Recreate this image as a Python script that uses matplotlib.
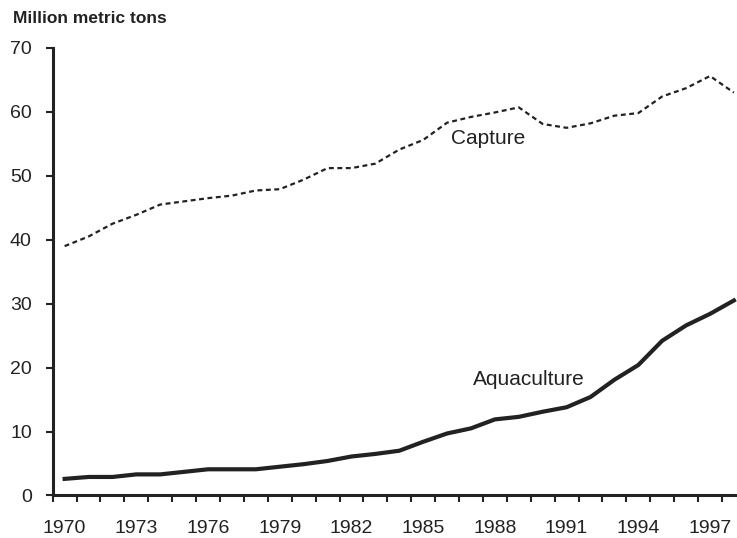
import matplotlib
matplotlib.use("Agg")
import matplotlib.pyplot as plt
from matplotlib import font_manager
from matplotlib.ticker import FixedLocator

installed = {f.name for f in font_manager.fontManager.ttflist}
narrow = 'Liberation Sans Narrow' in installed

plt.rcParams['font.family'] = ['Liberation Sans', 'DejaVu Sans']

years = list(range(1970, 1999))
capture = [39.0, 40.5, 42.5, 43.9, 45.5, 46.0, 46.5, 46.9, 47.7, 47.9,
           49.4, 51.2, 51.2, 51.9, 54.1, 55.6, 58.3, 59.2, 59.9, 60.7,
           58.1, 57.5, 58.2, 59.4, 59.8, 62.4, 63.7, 65.6, 63.0]
aquaculture = [2.6, 2.9, 2.9, 3.3, 3.3, 3.7, 4.1, 4.1, 4.1, 4.5,
               4.9, 5.4, 6.1, 6.5, 7.0, 8.4, 9.7, 10.5, 11.9, 12.3,
               13.1, 13.8, 15.4, 18.1, 20.4, 24.2, 26.6, 28.4, 30.5]
tick_years = list(range(1970, 1999, 3))

fig = plt.figure(figsize=(7.37, 5.38), dpi=100)
ax = fig.add_axes([0.0715, 0.079, 0.9285, 0.832])

ax.plot(years, capture, color='#222222', lw=1.6, linestyle=(0, (2.2, 1.6)))
ax.plot(years, aquaculture, color='#222222', lw=3.0, solid_joinstyle='round')

ax.text(1987.7, 55.8, 'Capture', fontsize=15, ha='center', va='center', color='#222222')
ax.text(1989.4, 18.1, 'Aquaculture', fontsize=15, ha='center', va='center', color='#222222')

ax.set_xlim(1969.5, 1998.13)
ax.set_ylim(0, 70)

ax.set_yticks(range(0, 71, 10))
ax.set_xticks(tick_years)
ax.set_xticklabels([str(y) for y in tick_years])
ax.xaxis.set_minor_locator(FixedLocator([y + 0.5 for y in range(1969, 1999)]))

if narrow:
    tick_font = {'family': 'Liberation Sans Narrow', 'size': 15.5}
else:
    tick_font = {'family': 'Liberation Sans', 'size': 14}
for lab in ax.get_xticklabels() + ax.get_yticklabels():
    lab.set_fontfamily(tick_font['family'])
    lab.set_fontsize(tick_font['size'])
    lab.set_color('#222222')

ax.tick_params(axis='x', which='major', length=0, pad=18)
ax.tick_params(axis='x', which='minor', length=5, width=1.5, direction='out', color='#222222')
ax.tick_params(axis='y', length=5, width=1.5, direction='out', pad=10, color='#222222')

for s in ['top', 'right']:
    ax.spines[s].set_visible(False)
for s in ['left', 'bottom']:
    ax.spines[s].set_linewidth(2.2)
    ax.spines[s].set_color('#222222')

fig.text(0.017, 0.965, 'Million metric tons', fontsize=12.5, fontweight='bold',
         ha='left', va='center', color='#222222')

plt.savefig('out.png', dpi=100)
